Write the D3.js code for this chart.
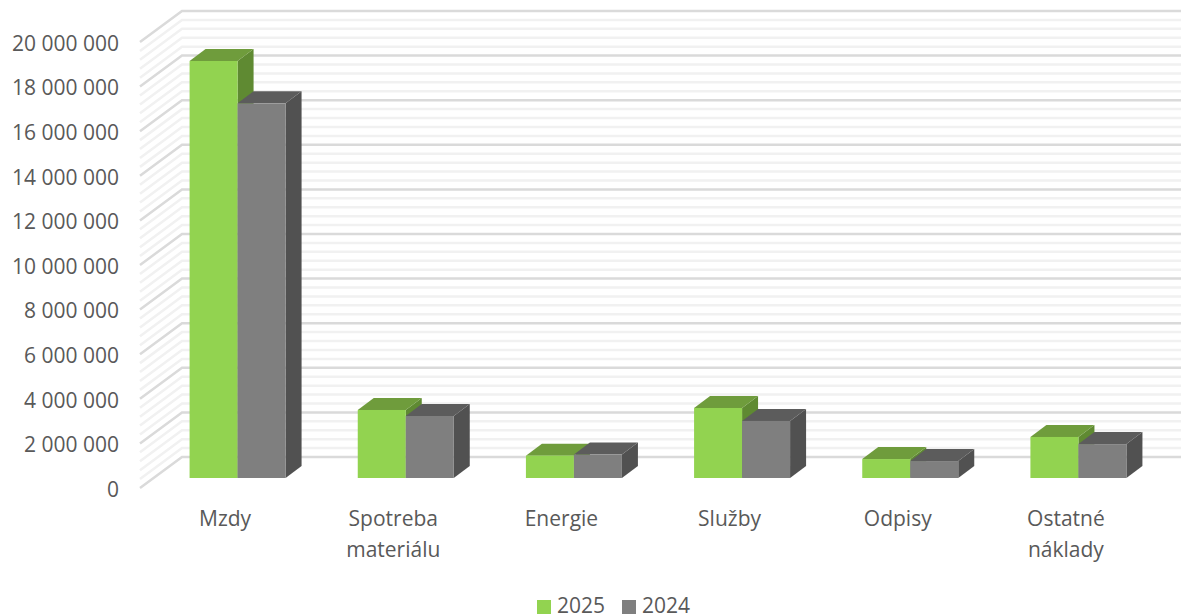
<!DOCTYPE html>
<html lang="cs">
<head>
<meta charset="UTF-8">
<title>Náklady</title>
<script src="https://cdnjs.cloudflare.com/ajax/libs/d3/7.8.5/d3.min.js"></script>
<style>
    html, body { margin: 0; padding: 0; background: #fff; overflow: hidden; }
    svg { display: block; }
    text { font-family: "Open Sans", sans-serif; fill: #595959; }
</style>
</head>
<body>
<svg width="1181" height="616"></svg>
<script>
const categories = [["Mzdy"], ["Spotreba", "materiálu"], ["Energie"], ["Služby"], ["Odpisy"], ["Ostatné", "náklady"]];
const values2025 = [18700000, 3050000, 1000000, 3140000, 850000, 1840000];
const values2024 = [16800000, 2780000, 1050000, 2560000, 760000, 1520000];
const seriesNames = ["2025", "2024"];
const majorTicks = d3.range(0, 20000001, 2000000);
const minorTicks = d3.range(0, 20000001, 400000);

const svg = d3.select("svg");

// 3D depth of the walls and of the bars
const wallDx = 42, wallDy = 31;
const barDx = 16, barDy = 12;

// y is the front edge of the floor, the back wall sits wallDy above it
const y = d3.scaleLinear().domain([0, 20000000]).range([488, 42]);
const x = d3.scaleBand().domain(categories.map(d => d[0])).range([141, 1150]).paddingInner(0).paddingOuter(0);
const fmt = d => d3.format(",")(d).replace(/,/g, " ");

const grid = svg.append("g");
minorTicks.filter(t => !majorTicks.includes(t)).forEach(t => gridLine(t, "#f1f1f1"));
majorTicks.forEach(t => gridLine(t, "#dadada"));

function gridLine(t, color) {
    const path = d3.path();
    path.moveTo(140, y(t));
    path.lineTo(140 + wallDx, y(t) - wallDy);
    path.lineTo(1181, y(t) - wallDy);
    grid.append("path").attr("d", path.toString()).attr("fill", "none").attr("stroke", color).attr("stroke-width", 2.5);
}

// y axis labels
const yAxis = d3.axisLeft(y).tickValues(majorTicks).tickFormat(fmt).tickSize(0).tickPadding(0);
const yG = svg.append("g").attr("transform", "translate(119,1.5)").call(yAxis);
yG.select(".domain").remove();
yG.selectAll("text").attr("font-size", 21).style("font-family", '"Open Sans", sans-serif').attr("fill", "#595959");

// bars: front face, top and side
const barW = 48, baseShift = 12.5, baseDrop = 10;
const barColors = [
    { front: "#92d350", top: "#6f9c3c", side: "#5f8a32" },
    { front: "#7f7f7f", top: "#5c5c5c", side: "#515151" }
];

function drawBar(g, x0, value, col) {
    const y0 = y(0) - baseDrop;
    const y1 = y0 - (y(0) - y(value));
    g.append("polygon").attr("fill", col.side)
        .attr("points", [[x0 + barW, y0], [x0 + barW + barDx, y0 - barDy], [x0 + barW + barDx, y1 - barDy], [x0 + barW, y1]].join(" "));
    g.append("polygon").attr("fill", col.top)
        .attr("points", [[x0, y1], [x0 + barDx, y1 - barDy], [x0 + barW + barDx, y1 - barDy], [x0 + barW, y1]].join(" "));
    g.append("rect").attr("x", x0).attr("y", y1).attr("width", barW).attr("height", y0 - y1).attr("fill", col.front);
}

const bars = svg.append("g");
categories.forEach((c, i) => {
    const center = x(c[0]) + x.bandwidth() / 2 + baseShift;
    const g = bars.append("g");
    drawBar(g, center - barW, values2025[i], barColors[0]);
    drawBar(g, center, values2024[i], barColors[1]);
});

// category labels
categories.forEach(c => {
    const t = svg.append("text")
        .attr("x", x(c[0]) + x.bandwidth() / 2)
        .attr("y", 526)
        .attr("text-anchor", "middle")
        .attr("font-size", 21);
    c.forEach((line, j) => t.append("tspan").attr("x", x(c[0]) + x.bandwidth() / 2).attr("dy", j ? 31 : 0).text(line));
});

// legend
const legendX = [537, 622];
seriesNames.forEach((name, i) => {
    svg.append("rect").attr("x", legendX[i]).attr("y", 600).attr("width", 14).attr("height", 14).attr("fill", barColors[i].front);
    svg.append("text").attr("x", legendX[i] + 20).attr("y", 613).attr("font-size", 21).text(name);
});
</script>
</body>
</html>
